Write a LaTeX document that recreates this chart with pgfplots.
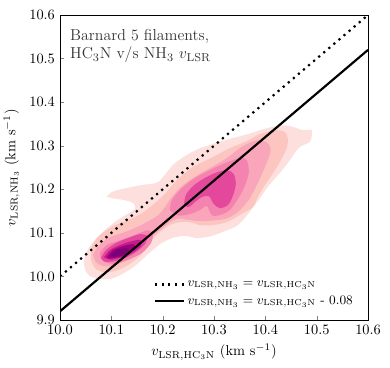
\documentclass[border=0pt]{standalone}
\usepackage{pgfplots}
\pgfplotsset{compat=1.18}
\definecolor{cA}{HTML}{FDE0DD}
\definecolor{cB}{HTML}{FCC5C0}
\definecolor{cC}{HTML}{F9A5BA}
\definecolor{cD}{HTML}{F583AF}
\definecolor{cE}{HTML}{E4489D}
\definecolor{cF}{HTML}{C51B8A}
\definecolor{cG}{HTML}{9E017C}
\definecolor{cH}{HTML}{7A0177}
\begin{document}
\begin{tikzpicture}
\useasboundingbox (-41.55bp,-33.2bp) rectangle (228.5bp,221.6bp);
\begin{axis}[
  scale only axis, width=213.3bp, height=211.2bp,
  xmin=10, xmax=10.6, ymin=9.9, ymax=10.6,
  xtick={10,10.1,10.2,10.3,10.4,10.5,10.6},
  ytick={9.9,10,10.1,10.2,10.3,10.4,10.5,10.6},
  xticklabel style={/pgf/number format/.cd, fixed, fixed zerofill, precision=1},
  yticklabel style={/pgf/number format/.cd, fixed, fixed zerofill, precision=1},
  tick align=inside, xtick pos=bottom, ytick pos=left,
  major tick length=2.6pt,
  axis line style={line width=0.6pt},
  xlabel={$v_{\mathrm{LSR,HC_3N}}$ (km s$^{-1}$)},
  ylabel={$v_{\mathrm{LSR,NH_3}}$ (km s$^{-1}$)},
  legend style={at={(0.975,0.025)}, anchor=south east, draw=none, fill=none, font=\small, row sep=1pt},
  legend cell align=left,
  legend image code/.code={\draw[#1] (0cm,0cm) -- (0.7cm,0cm);},
  axis on top,
]
% level 1
\addplot[forget plot, fill=cA, draw=none, smooth, tension=0.5] coordinates {
(10.091,10.183) (10.101,10.194) (10.126,10.202) (10.159,10.210) (10.191,10.217)
(10.220,10.256) (10.246,10.278) (10.272,10.294) (10.311,10.309) (10.344,10.320)
(10.370,10.328) (10.402,10.340) (10.434,10.347) (10.454,10.343) (10.473,10.336)
(10.490,10.336) (10.490,10.320) (10.486,10.308) (10.467,10.297) (10.454,10.278)
(10.441,10.256) (10.422,10.229) (10.405,10.206) (10.389,10.179) (10.375,10.157)
(10.360,10.134) (10.344,10.116) (10.317,10.102) (10.292,10.092) (10.267,10.088)
(10.243,10.093) (10.218,10.088) (10.195,10.074) (10.171,10.051) (10.148,10.026)
(10.125,10.008) (10.101,9.995) (10.078,9.994) (10.058,10.001) (10.049,10.015)
(10.047,10.033) (10.052,10.057) (10.065,10.080) (10.084,10.103) (10.107,10.125)
(10.133,10.145) (10.146,10.156) (10.143,10.168) (10.126,10.175) (10.104,10.179)
(10.091,10.183)} -- cycle;
% level 2
\addplot[forget plot, fill=cB, draw=none, smooth, tension=0.5] coordinates {
(10.0617,10.0681) (10.0745,10.0911) (10.1006,10.1140) (10.1329,10.1294) (10.1589,10.1447)
(10.1848,10.1683) (10.2043,10.1890) (10.2276,10.2211) (10.2588,10.2509) (10.2977,10.2739)
(10.3307,10.2945) (10.3638,10.3106) (10.3891,10.3266) (10.4222,10.3358) (10.4377,10.3312)
(10.4436,10.3174) (10.4416,10.2945) (10.4280,10.2624) (10.4125,10.2326) (10.3988,10.2096)
(10.3852,10.1821) (10.3755,10.1592) (10.3502,10.1408) (10.3249,10.1248) (10.2977,10.1179)
(10.2724,10.1179) (10.2529,10.1248) (10.2335,10.1248) (10.2140,10.1179) (10.1946,10.1018)
(10.1751,10.0789) (10.1556,10.0468) (10.1323,10.0261) (10.1070,10.0124) (10.0837,10.0101)
(10.0681,10.0193) (10.0603,10.0399) (10.0617,10.0681)} -- cycle;
% level 3
\addplot[forget plot, fill=cC, draw=none, smooth, tension=0.5] coordinates {
(10.0642,10.0491) (10.0739,10.0681) (10.0934,10.0881) (10.1206,10.0995) (10.1459,10.1110)
(10.1654,10.1225) (10.1907,10.1400) (10.2043,10.1592) (10.2140,10.1760) (10.2335,10.2028)
(10.2588,10.2257) (10.2918,10.2486) (10.3249,10.2716) (10.3560,10.2991) (10.3852,10.3128)
(10.4047,10.3060) (10.4105,10.2899) (10.4047,10.2670) (10.3949,10.2394) (10.3833,10.2096)
(10.3696,10.1798) (10.3502,10.1520) (10.3268,10.1340) (10.3016,10.1290) (10.2724,10.1270)
(10.2490,10.1300) (10.2296,10.1330) (10.2140,10.1248) (10.1946,10.1064) (10.1751,10.0881)
(10.1556,10.0651) (10.1323,10.0422) (10.1070,10.0250) (10.0837,10.0240) (10.0700,10.0330)
(10.0642,10.0491)} -- cycle;
% level 4 middle
\addplot[forget plot, fill=cD, draw=none, smooth, tension=0.5] coordinates {
(10.2140,10.1523) (10.2179,10.1752) (10.2374,10.2028) (10.2626,10.2257) (10.2918,10.2440)
(10.3210,10.2601) (10.3502,10.2716) (10.3638,10.2670) (10.3677,10.2394) (10.3599,10.2073)
(10.3463,10.1775) (10.3307,10.1523) (10.3113,10.1408) (10.2957,10.1408) (10.2860,10.1615)
(10.2724,10.1523) (10.2529,10.1431) (10.2296,10.1400) (10.2140,10.1523)} -- cycle;
% level 4 left
\addplot[forget plot, fill=cD, draw=none, smooth, tension=0.5] coordinates {
(10.0778,10.0537) (10.0914,10.0720) (10.1187,10.0835) (10.1459,10.0950) (10.1712,10.1064)
(10.1809,10.0972) (10.1770,10.0766) (10.1595,10.0537) (10.1323,10.0380) (10.1070,10.0290)
(10.0895,10.0320) (10.0798,10.0400) (10.0778,10.0537)} -- cycle;
% level 5 middle
\addplot[forget plot, fill=cE, draw=none, smooth, tension=0.5] coordinates {
(10.2412,10.1638) (10.2451,10.1867) (10.2588,10.2073) (10.2782,10.2234) (10.3016,10.2372)
(10.3249,10.2440) (10.3385,10.2349) (10.3424,10.2119) (10.3366,10.1844) (10.3268,10.1638)
(10.3113,10.1569) (10.2996,10.1661) (10.2899,10.1844) (10.2763,10.1821) (10.2626,10.1706)
(10.2510,10.1592) (10.2412,10.1638)} -- cycle;
% level 5 left
\addplot[forget plot, fill=cE, draw=none, smooth, tension=0.5] coordinates {
(10.0800,10.0430) (10.0895,10.0606) (10.1089,10.0766) (10.1323,10.0881) (10.1556,10.0972)
(10.1693,10.0927) (10.1654,10.0743) (10.1479,10.0560) (10.1245,10.0410) (10.1012,10.0340)
(10.0856,10.0345) (10.0800,10.0430)} -- cycle;
% level 6 left
\addplot[forget plot, fill=cF, draw=none, smooth, tension=0.5] coordinates {
(10.0856,10.0440) (10.0973,10.0606) (10.1167,10.0720) (10.1401,10.0812) (10.1576,10.0835)
(10.1576,10.0697) (10.1401,10.0537) (10.1167,10.0430) (10.0973,10.0385) (10.0856,10.0440)} -- cycle;
% level 7 left
\addplot[forget plot, fill=cG, draw=none, smooth, tension=0.5] coordinates {
(10.0914,10.0455) (10.1031,10.0606) (10.1226,10.0697) (10.1440,10.0743) (10.1440,10.0628)
(10.1284,10.0491) (10.1089,10.0430) (10.0953,10.0410) (10.0914,10.0455)} -- cycle;
% level 8 left
\addplot[forget plot, fill=cH, draw=none, smooth, tension=0.5] coordinates {
(10.0973,10.0475) (10.1089,10.0606) (10.1284,10.0651) (10.1342,10.0606) (10.1226,10.0491)
(10.1051,10.0450) (10.0973,10.0475)} -- cycle;
% lines
\addplot[black, line width=1.5bp, dash pattern=on 1.5bp off 3.1bp] coordinates {(10.0,10.0) (10.6,10.6)};
\addlegendentry{$v_{\mathrm{LSR,NH_3}} = v_{\mathrm{LSR,HC_3N}}$}
\addplot[black, line width=1.5bp] coordinates {(10.0,9.92) (10.6,10.52)};
\addlegendentry{$v_{\mathrm{LSR,NH_3}} = v_{\mathrm{LSR,HC_3N}}$ - 0.08}
\node[anchor=north west, align=left, font=\fontsize{11}{13}\selectfont, text=black!80, inner sep=0pt]
  at (rel axis cs:0.032,0.955) {Barnard 5 filaments,\\HC$_3$N v/s NH$_3$ $v_{\mathrm{LSR}}$};
\end{axis}
\end{tikzpicture}
\end{document}
